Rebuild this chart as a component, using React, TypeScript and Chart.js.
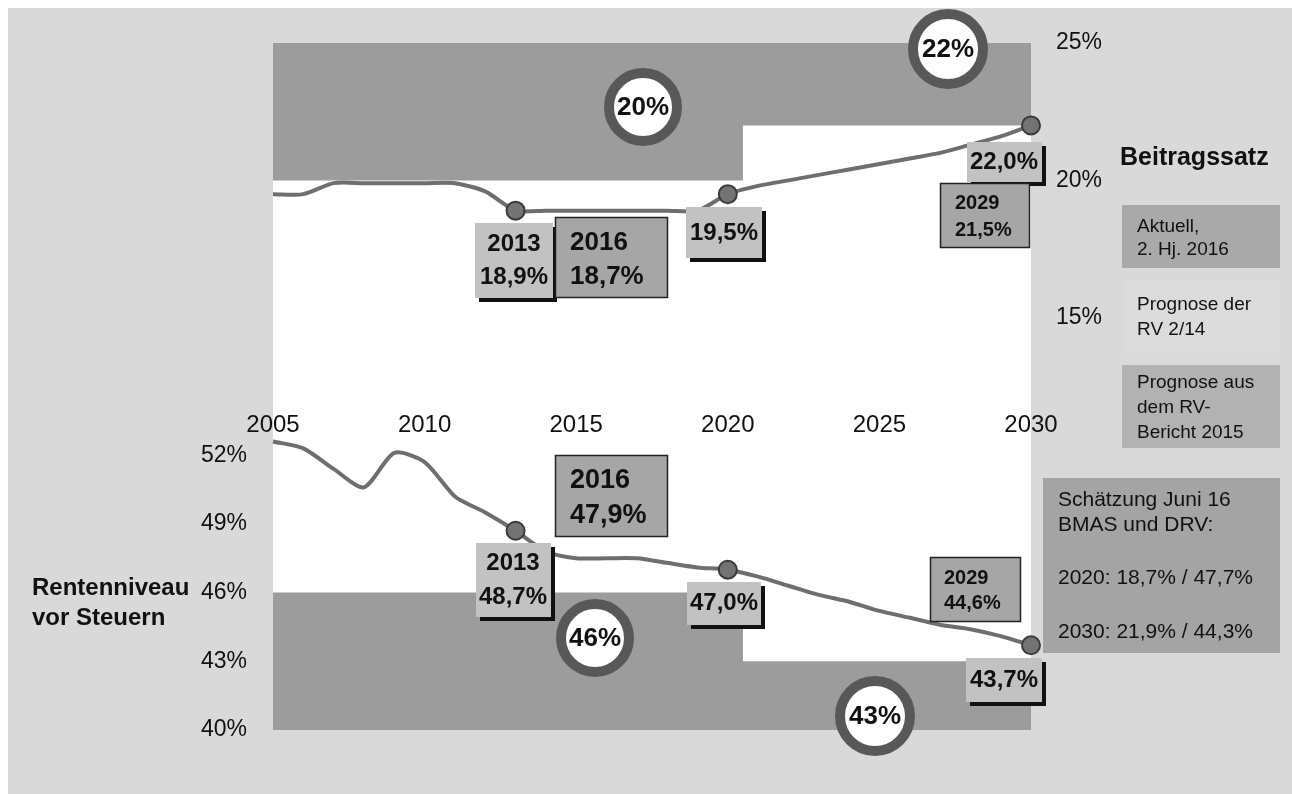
import React, { useEffect, useRef } from 'react';
import { Chart, registerables } from 'chart.js';

Chart.register(...registerables);

// ---------- data ----------
const years = [2005, 2006, 2007, 2008, 2009, 2010, 2011, 2012, 2013, 2014, 2015, 2016, 2017, 2018, 2019, 2020, 2021, 2022, 2023, 2024, 2025, 2026, 2027, 2028, 2029, 2030];
const beitragssatz = [19.5, 19.5, 19.9, 19.9, 19.9, 19.9, 19.9, 19.6, 18.9, 18.9, 18.9, 18.9, 18.9, 18.9, 18.9, 19.5, 19.8, 20.0, 20.2, 20.4, 20.6, 20.8, 21.0, 21.3, 21.6, 22.0];
const rentenniveau = [52.6, 52.3, 51.4, 50.6, 52.1, 51.7, 50.2, 49.5, 48.7, 47.8, 47.5, 47.5, 47.5, 47.3, 47.1, 47.0, 46.7, 46.3, 45.9, 45.6, 45.2, 44.9, 44.6, 44.4, 44.1, 43.7];
const markedYears = [2013, 2020, 2030];

const beitragLimitX = [2005, 2020.5, 2020.5, 2030];
const beitragLimitY = [20, 20, 22, 22];
const rentenLimitX = [2005, 2020.5, 2020.5, 2030];
const rentenLimitY = [46, 46, 43, 43];

const xTickLabels = [2005, 2010, 2015, 2020, 2025, 2030];
const beitragTicks = [15, 20, 25];
const rentenTicks = [40, 43, 46, 49, 52];

// ---------- styles / layout ----------
const FONT = '"Liberation Sans", Arial, sans-serif';
const BG = '#d9d9d9';
const BAND = '#9c9c9c';
const LINE = '#6e6e6e';
const LIGHT_BOX = '#c2c2c2';
const DARK_BOX = '#a6a6a6';
const RING = '#585858';

type Box = { x: number; y: number; w: number; h: number; kind: 'light' | 'dark' | 'plain'; fill?: string; lines: string[]; size: number; bold: boolean; align: 'center' | 'left'; tx: number; ty: number[] };

const boxes: Box[] = [
  // upper panel
  { x: 467, y: 215, w: 78, h: 75, kind: 'light', lines: ['2013', '18,9%'], size: 24, bold: true, align: 'center', tx: 506, ty: [236, 269] },
  { x: 547, y: 209, w: 113, h: 81, kind: 'dark', lines: ['2016', '18,7%'], size: 26, bold: true, align: 'left', tx: 562, ty: [235, 269] },
  { x: 678, y: 199, w: 76, h: 51, kind: 'light', lines: ['19,5%'], size: 24, bold: true, align: 'center', tx: 716, ty: [225] },
  { x: 959, y: 134, w: 75, h: 40, kind: 'light', lines: ['22,0%'], size: 24, bold: true, align: 'center', tx: 996, ty: [154] },
  { x: 932, y: 175, w: 90, h: 65, kind: 'dark', lines: ['2029', '21,5%'], size: 20, bold: true, align: 'left', tx: 947, ty: [195, 222] },
  // lower panel
  { x: 547, y: 447, w: 113, h: 82, kind: 'dark', lines: ['2016', '47,9%'], size: 27, bold: true, align: 'left', tx: 562, ty: [473, 508] },
  { x: 468, y: 535, w: 75, h: 74, kind: 'light', lines: ['2013', '48,7%'], size: 24, bold: true, align: 'center', tx: 505, ty: [555, 589] },
  { x: 679, y: 574, w: 74, h: 43, kind: 'light', lines: ['47,0%'], size: 24, bold: true, align: 'center', tx: 716, ty: [595] },
  { x: 922, y: 549, w: 91, h: 65, kind: 'dark', lines: ['2029', '44,6%'], size: 20, bold: true, align: 'left', tx: 936, ty: [570, 595] },
  { x: 958, y: 650, w: 76, h: 44, kind: 'light', lines: ['43,7%'], size: 24, bold: true, align: 'center', tx: 996, ty: [672] },
  // legend side
  { x: 1114, y: 197, w: 158, h: 63, kind: 'plain', fill: '#a9a9a9', lines: ['Aktuell,', '2. Hj. 2016'], size: 19, bold: false, align: 'left', tx: 1129, ty: [219, 242] },
  { x: 1114, y: 272, w: 158, h: 78, kind: 'plain', fill: '#dbdbdb', lines: ['Prognose der', 'RV 2/14'], size: 19, bold: false, align: 'left', tx: 1129, ty: [297, 322] },
  { x: 1114, y: 357, w: 158, h: 83, kind: 'plain', fill: '#b2b2b2', lines: ['Prognose aus', 'dem RV-', 'Bericht 2015'], size: 19, bold: false, align: 'left', tx: 1129, ty: [375, 400, 425] },
  { x: 1035, y: 470, w: 237, h: 175, kind: 'plain', fill: '#a4a4a4', lines: ['Schätzung Juni 16', 'BMAS und DRV:', '', '2020: 18,7% / 47,7%', '', '2030: 21,9% / 44,3%'], size: 21, bold: false, align: 'left', tx: 1050, ty: [492, 517, 543, 570, 597, 624] },
];

type Ring = { cx: number; cy: number; r: number; text: string };
const rings: Ring[] = [
  { cx: 635, cy: 99, r: 39, text: '20%' },
  { cx: 940, cy: 41, r: 40, text: '22%' },
  { cx: 587, cy: 630, r: 39, text: '46%' },
  { cx: 867, cy: 708, r: 40, text: '43%' },
];

type Label = { x: number; y: number; text: string[]; size: number; bold: boolean; lh: number };
const labels: Label[] = [
  { x: 1112, y: 150, text: ['Beitragssatz'], size: 25, bold: true, lh: 30 },
  { x: 24, y: 580, text: ['Rentenniveau', 'vor Steuern'], size: 24, bold: true, lh: 30 },
];

const X_LABEL_Y = 417;

const decorPlugin = {
  id: 'decor',
  beforeDraw(chart: any) {
    const { ctx, chartArea } = chart;
    ctx.save();
    ctx.fillStyle = BG;
    ctx.fillRect(0, 0, chart.width, chart.height);
    ctx.fillStyle = '#ffffff';
    ctx.fillRect(chartArea.left, chartArea.top, chartArea.right - chartArea.left, chartArea.bottom - chartArea.top);
    ctx.restore();
  },
  afterDatasetsDraw(chart: any) {
    const { ctx } = chart;
    const xs = chart.scales.x;
    ctx.save();
    ctx.textBaseline = 'middle';
    // x tick labels
    ctx.fillStyle = '#111';
    ctx.font = `24px ${FONT}`;
    ctx.textAlign = 'center';
    xTickLabels.forEach((v) => {
      ctx.fillText(String(v), xs.getPixelForValue(v), X_LABEL_Y);
    });

    // boxes
    boxes.forEach((b) => {
      if (b.kind === 'light') {
        ctx.fillStyle = '#111';
        ctx.fillRect(b.x + 4, b.y + 4, b.w, b.h);
        ctx.fillStyle = LIGHT_BOX;
        ctx.fillRect(b.x, b.y, b.w, b.h);
      } else if (b.kind === 'dark') {
        ctx.fillStyle = DARK_BOX;
        ctx.fillRect(b.x, b.y, b.w, b.h);
        ctx.strokeStyle = '#222';
        ctx.lineWidth = 1.5;
        ctx.strokeRect(b.x + 0.5, b.y + 0.5, b.w - 1, b.h - 1);
      } else {
        ctx.fillStyle = b.fill || DARK_BOX;
        ctx.fillRect(b.x, b.y, b.w, b.h);
      }
      ctx.fillStyle = '#111';
      ctx.font = `${b.bold ? 'bold ' : ''}${b.size}px ${FONT}`;
      ctx.textAlign = b.align;
      b.lines.forEach((t, i) => {
        if (t) ctx.fillText(t, b.tx, b.ty[i]);
      });
    });

    // rings
    rings.forEach((r) => {
      ctx.beginPath();
      ctx.arc(r.cx, r.cy, r.r - 5, 0, Math.PI * 2);
      ctx.fillStyle = '#ffffff';
      ctx.fill();
      ctx.lineWidth = 10;
      ctx.strokeStyle = RING;
      ctx.stroke();
      ctx.fillStyle = '#111';
      ctx.font = `bold 26px ${FONT}`;
      ctx.textAlign = 'center';
      ctx.fillText(r.text, r.cx, r.cy + 1);
    });

    // free labels
    labels.forEach((l) => {
      ctx.fillStyle = '#111';
      ctx.font = `${l.bold ? 'bold ' : ''}${l.size}px ${FONT}`;
      ctx.textAlign = 'left';
      l.text.forEach((t, i) => ctx.fillText(t, l.x, l.y + i * l.lh));
    });
    ctx.restore();
  },
};

export default function App() {
  const ref = useRef<HTMLCanvasElement | null>(null);

  useEffect(() => {
    if (!ref.current) return;
    const pointR = (ctx: any) => (markedYears.includes(years[ctx.dataIndex]) ? 9 : 0);
    const chart = new Chart(ref.current, {
      type: 'line',
      data: {
        datasets: [
          {
            label: 'Beitragssatz',
            data: years.map((x, i) => ({ x, y: beitragssatz[i] })),
            yAxisID: 'yUp',
            borderColor: LINE,
            borderWidth: 4,
            tension: 0.25,
            fill: false,
            pointRadius: pointR,
            pointBackgroundColor: '#737373',
            pointBorderColor: '#3a3a3a',
            pointBorderWidth: 2,
            clip: false as any,
            order: 1,
          },
          {
            label: 'Rentenniveau',
            data: years.map((x, i) => ({ x, y: rentenniveau[i] })),
            yAxisID: 'yLow',
            borderColor: LINE,
            borderWidth: 4,
            tension: 0.25,
            fill: false,
            pointRadius: pointR,
            pointBackgroundColor: '#737373',
            pointBorderColor: '#3a3a3a',
            pointBorderWidth: 2,
            clip: false as any,
            order: 1,
          },
          {
            label: 'Grenze Beitragssatz',
            data: beitragLimitX.map((x, i) => ({ x, y: beitragLimitY[i] })),
            yAxisID: 'yUp',
            borderWidth: 0,
            pointRadius: 0,
            fill: 'end',
            backgroundColor: BAND,
            order: 2,
          },
          {
            label: 'Grenze Rentenniveau',
            data: rentenLimitX.map((x, i) => ({ x, y: rentenLimitY[i] })),
            yAxisID: 'yLow',
            borderWidth: 0,
            pointRadius: 0,
            fill: 'start',
            backgroundColor: BAND,
            order: 2,
          },
        ],
      },
      options: {
        animation: false,
        responsive: false,
        maintainAspectRatio: false,
        devicePixelRatio: 1,
        layout: { padding: { left: 0, right: 0, top: 35, bottom: 64 } },
        plugins: { legend: { display: false }, tooltip: { enabled: false } },
        scales: {
          x: { type: 'linear', min: 2005, max: 2030, display: false },
          yLow: {
            type: 'linear',
            position: 'left',
            min: 40,
            max: 70,
            grid: { display: false },
            border: { display: false },
            ticks: { font: { family: FONT, size: 23 }, color: '#111', padding: 18, callback: (v: any) => `${v}%` },
            afterBuildTicks: (s: any) => {
              s.ticks = rentenTicks.map((v) => ({ value: v }));
            },
            afterFit: (s: any) => {
              s.width = 265;
            },
          },
          yUp: {
            type: 'linear',
            position: 'right',
            min: 0,
            max: 25,
            grid: { display: false },
            border: { display: false },
            ticks: { font: { family: FONT, size: 23 }, color: '#111', padding: 17, callback: (v: any) => `${v}%` },
            afterBuildTicks: (s: any) => {
              s.ticks = beitragTicks.map((v) => ({ value: v }));
            },
            afterFit: (s: any) => {
              s.width = 261;
            },
          },
        },
      } as any,
      plugins: [decorPlugin],
    });
    return () => chart.destroy();
  }, []);

  return (
    <div style={{ position: 'fixed', left: 8, top: 8, width: 1284, height: 786 }}>
      <canvas ref={ref} width={1284} height={786} style={{ display: 'block' }} />
    </div>
  );
}
